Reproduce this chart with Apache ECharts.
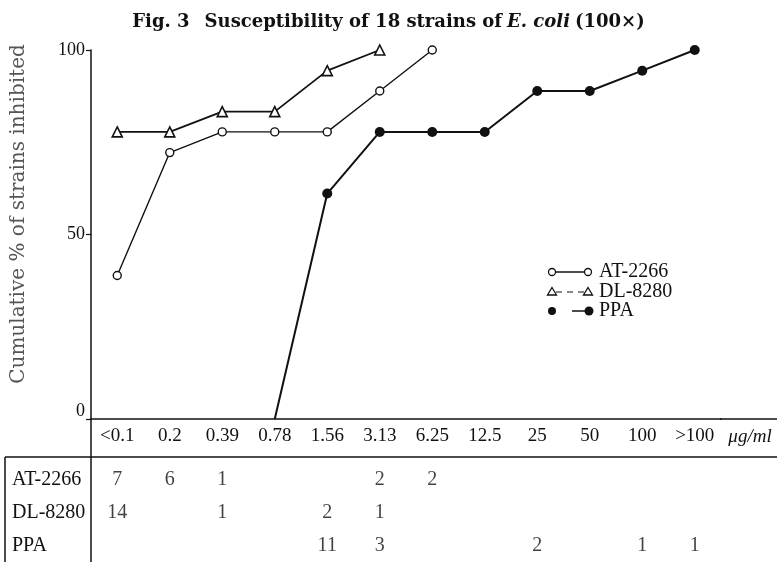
<!DOCTYPE html>
<html>
<head>
<meta charset="utf-8">
<script src="https://cdn.jsdelivr.net/npm/echarts@6/dist/echarts.min.js"></script>
<style>html,body{margin:0;padding:0;background:#fff}#c{width:777px;height:562px}</style>
</head>
<body>
<div id="c"></div>
<script>
// ---- data ----
const categories = ['<0.1', '0.2', '0.39', '0.78', '1.56', '3.13', '6.25', '12.5', '25', '50', '100', '>100'];
const yTicks = [0, 50, 100];
const at2266 = [38.9, 72.2, 77.8, 77.8, 77.8, 88.9, 100, null, null, null, null, null];
const dl8280 = [77.8, 77.8, 83.3, 83.3, 94.4, 100, null, null, null, null, null, null];
const ppa = [null, null, null, 0, 61.1, 77.8, 77.8, 77.8, 88.9, 88.9, 94.4, 100];
const rowNames = ['AT-2266', 'DL-8280', 'PPA'];
const atCounts = [7, 6, 1, null, null, 2, 2, null, null, null, null, null];
const dlCounts = [14, null, 1, null, 2, 1, null, null, null, null, null, null];
const ppaCounts = [null, null, null, null, 11, 3, null, null, 2, null, 1, 1];
const unitLabel = 'μg/ml';
const yName = 'Cumulative % of strains inhibited';

// ---- build ----
const SERIF = 'Liberation Serif';
const counts = [atCounts, dlCounts, ppaCounts];
const tableData = [];
counts.forEach((row, r) => row.forEach((v, i) => { if (v !== null) tableData.push([i, r, v]); }));

const ppaData = ppa.map((v, i) => (v === 0 ? { value: v, symbol: 'none' } : v));

const chart = echarts.init(document.getElementById('c'), null, { renderer: 'canvas' });
const black = '#111';
const option = {
  backgroundColor: '#fff',
  animation: false,
  title: {
    text: '{b|Fig. 3}   {b|Susceptibility of 18 strains of} {i|E. coli} {b|(100×)}',
    left: 'center',
    top: 8,
    textStyle: {
      rich: {
        b: { fontFamily: 'DejaVu Serif', fontWeight: 'bold', fontSize: 18, color: black },
        i: { fontFamily: 'DejaVu Serif', fontStyle: 'italic', fontSize: 18, color: black }
      }
    }
  },
  grid: [
    { left: 91, right: 56, top: 50, height: 369 },
    { left: 91, right: 56, top: 463, height: 99 }
  ],
  xAxis: [
    {
      gridIndex: 0, type: 'category', data: categories, boundaryGap: true,
      axisLine: { lineStyle: { color: black, width: 1.5 } },
      axisTick: { length: 5, lineStyle: { color: black, width: 1.2 } },
      axisLabel: { margin: 8, fontFamily: SERIF, fontSize: 19, color: black },
      splitLine: { show: false }
    },
    { gridIndex: 1, type: 'category', data: categories, boundaryGap: true, show: false }
  ],
  yAxis: [
    {
      gridIndex: 0, type: 'value', min: yTicks[0], max: yTicks[2], interval: 50,
      axisLine: { show: true, lineStyle: { color: black, width: 1.5 } },
      axisTick: { show: true, length: 5, lineStyle: { color: black, width: 1.2 } },
      axisLabel: {
        margin: 6, fontFamily: SERIF, fontSize: 18, color: black,
        formatter: v => (v === 0 ? '{z|0}' : String(v)),
        rich: { z: { fontFamily: SERIF, fontSize: 18, color: black, padding: [0, 0, 16, 0] } }
      },
      splitLine: { show: false }
    },
    {
      gridIndex: 1, type: 'category', data: rowNames, inverse: true,
      axisLine: { show: false }, axisTick: { show: false },
      axisLabel: { align: 'left', margin: 79, fontFamily: SERIF, fontSize: 20, color: black },
      splitLine: { show: false }
    }
  ],
  series: [
    {
      name: 'AT-2266', type: 'line', data: at2266, xAxisIndex: 0, yAxisIndex: 0,
      symbol: 'circle', symbolSize: 8, showAllSymbol: true,
      lineStyle: { color: black, width: 1.4 },
      itemStyle: { color: '#fff', borderColor: black, borderWidth: 1.4 }, z: 3
    },
    {
      name: 'DL-8280', type: 'line', data: dl8280, xAxisIndex: 0, yAxisIndex: 0,
      symbol: 'triangle', symbolSize: 10, showAllSymbol: true,
      lineStyle: { color: black, width: 1.8 },
      itemStyle: { color: '#fff', borderColor: black, borderWidth: 1.6 }, z: 3
    },
    {
      name: 'PPA', type: 'line', data: ppaData, xAxisIndex: 0, yAxisIndex: 0,
      symbol: 'circle', symbolSize: 10, showAllSymbol: true,
      lineStyle: { color: black, width: 2 },
      itemStyle: { color: black, borderColor: black, borderWidth: 0 }, z: 4
    },
    {
      name: 'table', type: 'scatter', xAxisIndex: 1, yAxisIndex: 1, data: tableData,
      symbolSize: 1, itemStyle: { color: 'rgba(0,0,0,0)' },
      label: {
        show: true, position: 'inside', formatter: p => String(p.value[2]),
        fontFamily: SERIF, fontSize: 20, color: black
      }
    }
  ],
  graphic: [
    { type: 'line', shape: { x1: 91, y1: 419, x2: 91, y2: 562 }, style: { stroke: black, lineWidth: 1.5 } },
    { type: 'line', shape: { x1: 720, y1: 419, x2: 777, y2: 419 }, style: { stroke: black, lineWidth: 1.5 } },
    { type: 'line', shape: { x1: 5, y1: 457, x2: 777, y2: 457 }, style: { stroke: black, lineWidth: 1.5 } },
    { type: 'line', shape: { x1: 5, y1: 457, x2: 5, y2: 562 }, style: { stroke: black, lineWidth: 1.5 } },
    { type: 'text', x: 750, y: 437, style: { text: unitLabel, fontFamily: SERIF, fontSize: 19, fontStyle: 'italic', fill: black, align: 'center', verticalAlign: 'middle' } },
    { type: 'text', x: 19, y: 214, rotation: Math.PI / 2, style: { text: yName, fontFamily: 'DejaVu Serif', fontSize: 20, fill: '#555', align: 'center', verticalAlign: 'middle' } },
    // legend
    { type: 'line', shape: { x1: 552, y1: 272, x2: 588, y2: 272 }, style: { stroke: black, lineWidth: 1.3 } },
    { type: 'circle', shape: { cx: 552, cy: 272, r: 3.5 }, style: { fill: '#fff', stroke: black, lineWidth: 1.3 } },
    { type: 'circle', shape: { cx: 588, cy: 272, r: 3.5 }, style: { fill: '#fff', stroke: black, lineWidth: 1.3 } },
    { type: 'text', x: 599, y: 272, style: { text: 'AT-2266', fontFamily: SERIF, fontSize: 20, fill: black, verticalAlign: 'middle' } },
    { type: 'line', shape: { x1: 556, y1: 292, x2: 584, y2: 292 }, style: { stroke: black, lineWidth: 1, lineDash: [6, 5] } },
    { type: 'polygon', shape: { points: [[552, 287.5], [556.5, 295], [547.5, 295]] }, style: { fill: '#fff', stroke: black, lineWidth: 1.3 } },
    { type: 'polygon', shape: { points: [[588, 287.5], [592.5, 295], [583.5, 295]] }, style: { fill: '#fff', stroke: black, lineWidth: 1.3 } },
    { type: 'text', x: 599, y: 292, style: { text: 'DL-8280', fontFamily: SERIF, fontSize: 20, fill: black, verticalAlign: 'middle' } },
    { type: 'line', shape: { x1: 572, y1: 311, x2: 589, y2: 311 }, style: { stroke: black, lineWidth: 1.5 } },
    { type: 'circle', shape: { cx: 552, cy: 311, r: 4 }, style: { fill: black } },
    { type: 'circle', shape: { cx: 589, cy: 311, r: 4.5 }, style: { fill: black } },
    { type: 'text', x: 599, y: 311, style: { text: 'PPA', fontFamily: SERIF, fontSize: 20, fill: black, verticalAlign: 'middle' } }
  ]
};
chart.setOption(option);
</script>
</body>
</html>
